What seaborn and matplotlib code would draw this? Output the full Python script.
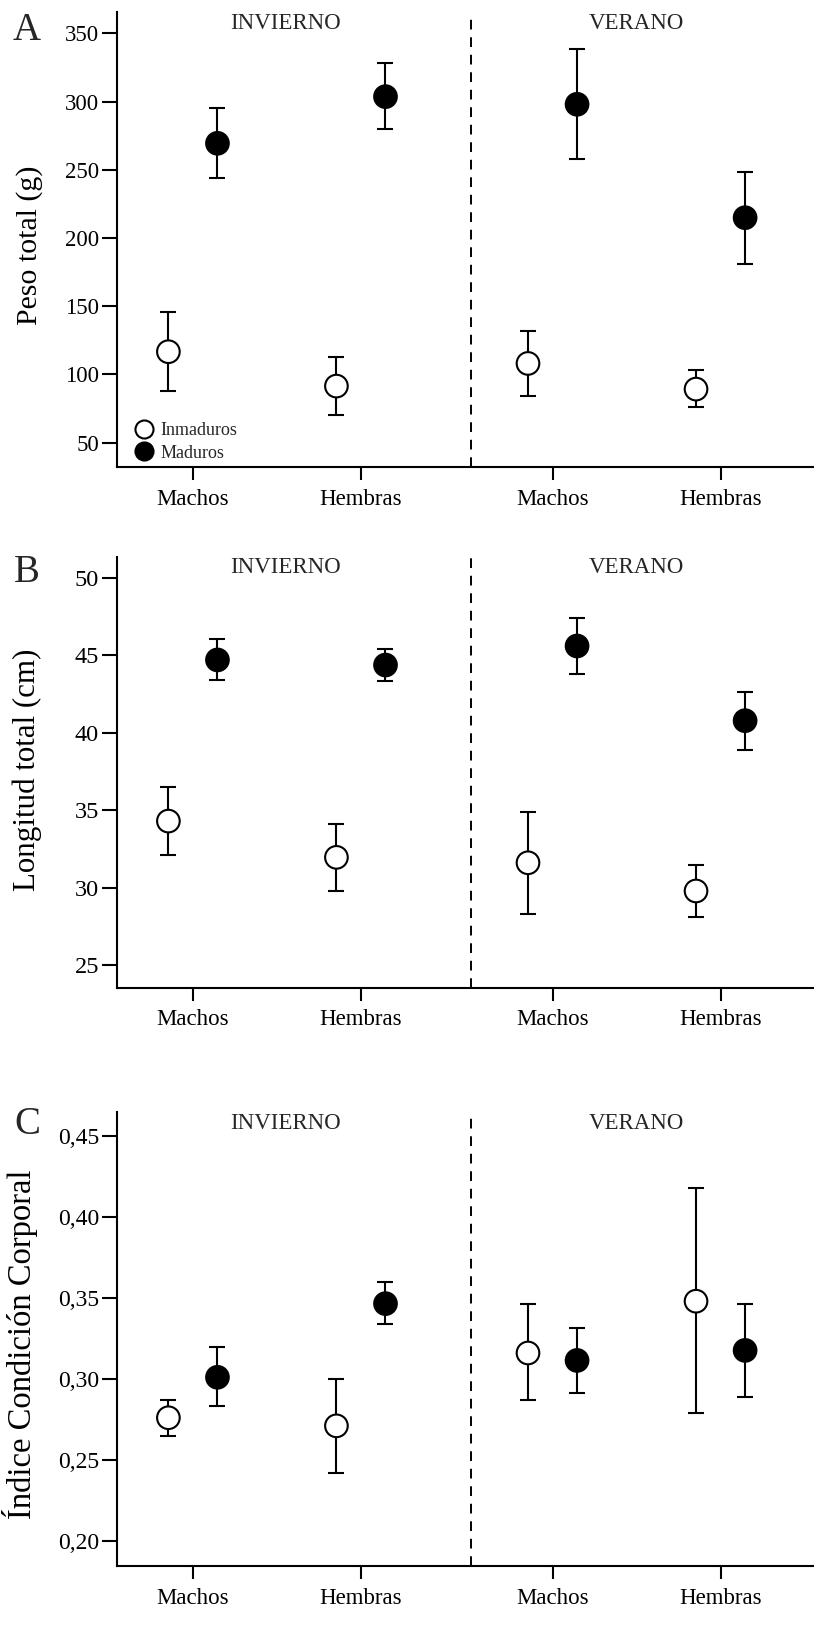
import pandas as pd
import seaborn as sns
import matplotlib.pyplot as plt
from matplotlib.lines import Line2D

# categories
sexes = ['Machos', 'Hembras', 'Machos', 'Hembras']
seasons = ['INVIERNO', 'INVIERNO', 'VERANO', 'VERANO']
stages = ['Inmaduros', 'Maduros']

# A - peso total (g): mean, lower, upper
peso_inm = [116.7, 91.5, 108.1, 89.3]
peso_inm_lo = [88.1, 70.3, 84.2, 76.0]
peso_inm_hi = [146.0, 113.0, 132.1, 103.0]
peso_mad = [269.4, 303.6, 298.0, 214.9]
peso_mad_lo = [243.7, 279.6, 257.9, 181.0]
peso_mad_hi = [295.5, 328.0, 338.3, 248.1]

# B - longitud total (cm)
long_inm = [34.29, 31.95, 31.6, 29.78]
long_inm_lo = [32.1, 29.8, 28.3, 28.12]
long_inm_hi = [36.49, 34.08, 34.85, 31.43]
long_mad = [44.69, 44.36, 45.59, 40.77]
long_mad_lo = [43.37, 43.31, 43.78, 38.9]
long_mad_hi = [46.04, 45.42, 47.38, 42.62]

# C - indice condicion corporal
icc_inm = [0.276, 0.271, 0.316, 0.348]
icc_inm_lo = [0.265, 0.242, 0.287, 0.279]
icc_inm_hi = [0.287, 0.300, 0.346, 0.418]
icc_mad = [0.301, 0.3465, 0.3114, 0.3176]
icc_mad_lo = [0.283, 0.334, 0.2915, 0.2888]
icc_mad_hi = [0.320, 0.360, 0.3313, 0.3463]

# tick labels
ticks_a = [50, 100, 150, 200, 250, 300, 350]
ticks_b = [25, 30, 35, 40, 45, 50]
ticks_c = [0.20, 0.25, 0.30, 0.35, 0.40, 0.45]

panels = [
    dict(letter='A', ylabel='Peso total (g)', ticks=ticks_a, ylim=(32.2, 365.6), fmt='{:.0f}',
         inm=(peso_inm, peso_inm_lo, peso_inm_hi), mad=(peso_mad, peso_mad_lo, peso_mad_hi),
         lab_size=21.5, lab_xy=(-0.106, 0.488), tick_size=16.5),
    dict(letter='B', ylabel='Longitud total (cm)', ticks=ticks_b, ylim=(23.54, 51.35), fmt='{:.0f}',
         inm=(long_inm, long_inm_lo, long_inm_hi), mad=(long_mad, long_mad_lo, long_mad_hi),
         lab_size=22.3, lab_xy=(-0.108, 0.505), tick_size=17.5),
    dict(letter='C', ylabel='Índice Condición Corporal', ticks=ticks_c, ylim=(0.1844, 0.4651), fmt='{:.2f}',
         inm=(icc_inm, icc_inm_lo, icc_inm_hi), mad=(icc_mad, icc_mad_lo, icc_mad_hi),
         lab_size=23.5, lab_xy=(-0.113, 0.487), tick_size=17),
]

group_x = [0, 1, 2.14, 3.14]
dodge = {'Inmaduros': -0.146, 'Maduros': 0.146}

sns.set_theme(style='ticks')
plt.rcParams['font.family'] = ['Liberation Serif', 'DejaVu Serif']

fig = plt.figure(figsize=(8.14, 16.25), dpi=100)
boxes = [(0.7126, 0.9926), (0.3922, 0.6574), (0.0363, 0.3159)]
letter_y = [30, 572, 1124]

for i, p in enumerate(panels):
    bottom, top = boxes[i]
    ax = fig.add_axes([0.1437, bottom, 1 - 0.1437, top - bottom])

    rows = []
    for stage, key in zip(stages, ['inm', 'mad']):
        m, lo, hi = p[key]
        for j in range(4):
            rows.append(dict(stage=stage, sex=sexes[j], season=seasons[j],
                             x=group_x[j] + dodge[stage], mean=m[j], lo=lo[j], hi=hi[j]))
    df = pd.DataFrame(rows)

    ax.errorbar(df['x'], df['mean'], yerr=[df['mean'] - df['lo'], df['hi'] - df['mean']],
                fmt='none', ecolor='black', elinewidth=1.5, capsize=5.5, capthick=1.5, zorder=2)
    sns.scatterplot(data=df, x='x', y='mean', hue='stage',
                    palette={'Inmaduros': 'white', 'Maduros': 'black'},
                    edgecolor='black', linewidth=1.5, s=265, ax=ax, zorder=3, legend=False)

    ax.axvline(1.653, color='black', ls=(0, (5, 4)), lw=1.4, zorder=1)

    ax.set_xlim(-0.452, 3.696)
    ax.set_ylim(*p['ylim'])
    ax.set_xticks(group_x)
    ax.set_xticklabels(sexes, fontsize=16.5)
    ax.set_yticks(p['ticks'])
    ax.set_yticklabels([p['fmt'].format(t).replace('.', ',') for t in p['ticks']],
                       fontsize=p['tick_size'])
    ax.tick_params(axis='y', direction='out', length=11, width=1.5, pad=2, colors='black')
    ax.tick_params(axis='x', direction='out', length=9.5, width=1.5, pad=6, colors='black')
    ax.set_xlabel('')
    ax.set_ylabel(p['ylabel'], fontsize=p['lab_size'], color='black')
    ax.yaxis.set_label_coords(*p['lab_xy'])
    sns.despine(ax=ax)
    for s in ['left', 'bottom']:
        ax.spines[s].set_linewidth(1.5)
        ax.spines[s].set_color('black')

    ax.text(0.55, 0.974, 'INVIERNO', transform=ax.get_xaxis_transform(),
            ha='center', va='center', fontsize=16.5)
    ax.text(2.64, 0.974, 'VERANO', transform=ax.get_xaxis_transform(),
            ha='center', va='center', fontsize=16.5)

    fig.text(27 / 814, 1 - letter_y[i] / 1625, p['letter'], ha='center', va='center', fontsize=28)

    if i == 0:
        handles = [Line2D([], [], marker='o', ls='none', markersize=13, markerfacecolor=c,
                          markeredgecolor='black', markeredgewidth=1.5)
                   for c in ['white', 'black']]
        ax.legend(handles, stages, loc='lower left', bbox_to_anchor=(0.007, -0.012),
                  frameon=False, fontsize=13, handletextpad=0.35, labelspacing=0.3,
                  handlelength=1.2, borderaxespad=0.2)

fig.savefig('out.png', dpi=100)
